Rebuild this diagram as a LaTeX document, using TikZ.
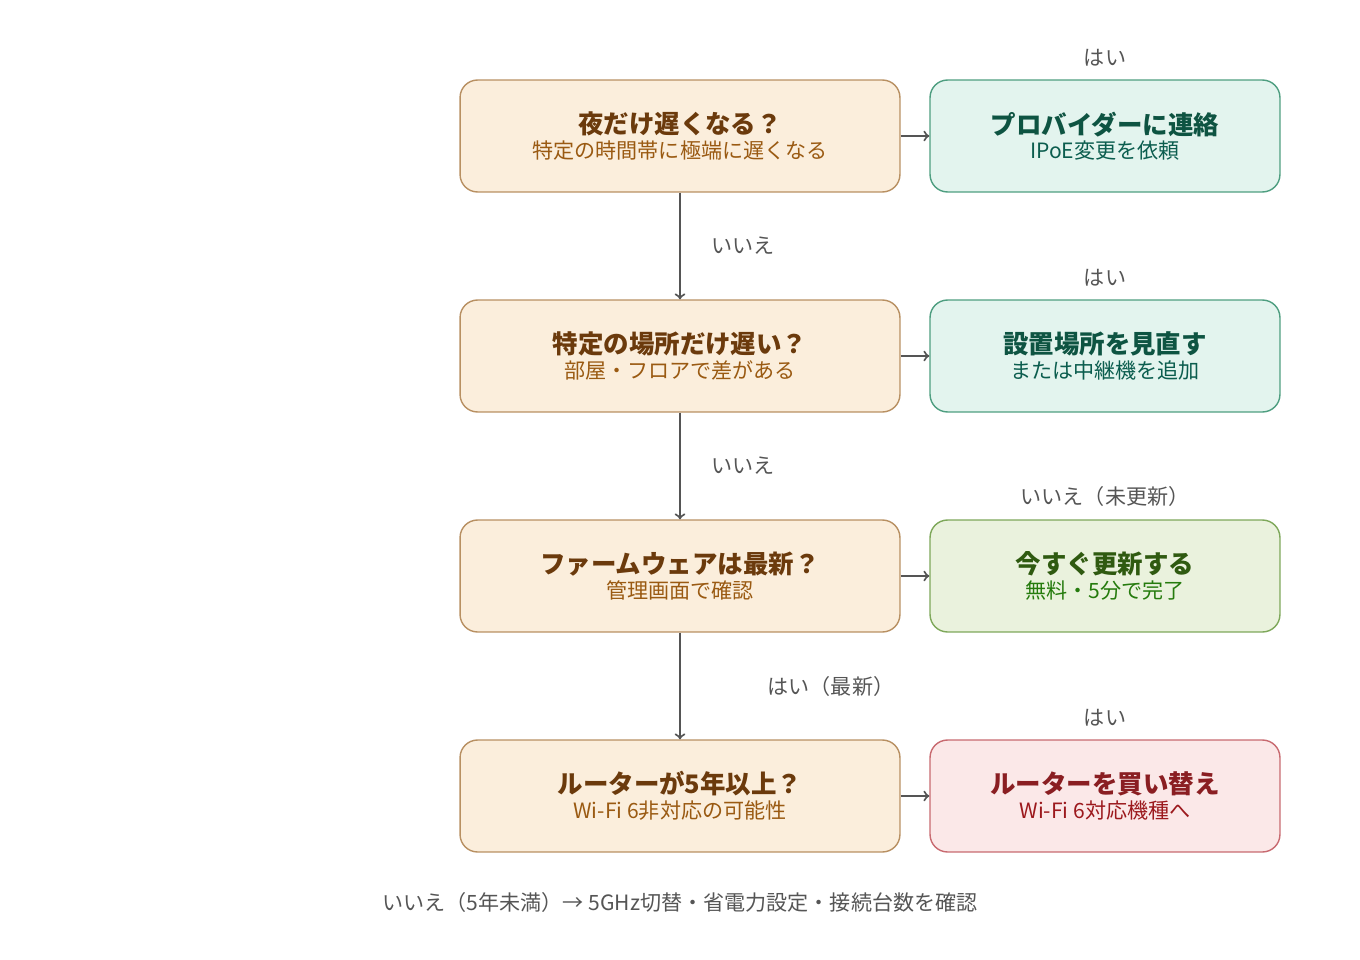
\documentclass[tikz,border=0pt]{standalone}
\usepackage{fontspec}
\setmainfont{Noto Sans CJK JP}
\usepackage{xcolor}
\usetikzlibrary{positioning}
\definecolor{qfill}{HTML}{FBEEDC}
\definecolor{qdraw}{HTML}{B89062}
\definecolor{qtitle}{HTML}{6B3A0C}
\definecolor{qsub}{HTML}{9A5A12}
\definecolor{tfill}{HTML}{E3F4EE}
\definecolor{tdraw}{HTML}{4E9E80}
\definecolor{ttitle}{HTML}{0E5442}
\definecolor{gfill}{HTML}{EAF2DD}
\definecolor{gdraw}{HTML}{7EA85A}
\definecolor{gtitle}{HTML}{2F5A10}
\definecolor{rfill}{HTML}{FBE8E8}
\definecolor{rdraw}{HTML}{C86A70}
\definecolor{rtitle}{HTML}{8A1E22}
\definecolor{lbl}{HTML}{555555}
\tikzset{
	box/.style={rounded corners=10pt,minimum width=8.8cm,minimum height=2.24cm,align=center,line width=0.8pt},
	ans/.style={box,minimum width=7cm},
	lab/.style={text=lbl,font=\fontsize{12}{14}\selectfont},
	arr/.style={->,lbl,line width=1.2pt},
}
\newcommand{\qtext}[3]{{\color{#1}\fontsize{14.5}{18}\selectfont\bfseries #2}\\[2pt]{\color{#1!70!orange}\fontsize{12}{14}\selectfont #3}}
\begin{document}
\begin{tikzpicture}[x=0.02cm,y=-0.02cm]
	\useasboundingbox (0,0) rectangle (1360,960);
	
	\node[box,fill=qfill,draw=qdraw] (q1) at (680,136) {{\color{qtitle}\fontsize{14.5}{18}\selectfont\bfseries 夜だけ遅くなる？}\\[2pt]{\color{qsub}\fontsize{12}{14}\selectfont 特定の時間帯に極端に遅くなる}};
	\node[box,fill=qfill,draw=qdraw] (q2) at (680,356) {{\color{qtitle}\fontsize{14.5}{18}\selectfont\bfseries 特定の場所だけ遅い？}\\[2pt]{\color{qsub}\fontsize{12}{14}\selectfont 部屋・フロアで差がある}};
	\node[box,fill=qfill,draw=qdraw] (q3) at (680,576) {{\color{qtitle}\fontsize{14.5}{18}\selectfont\bfseries ファームウェアは最新？}\\[2pt]{\color{qsub}\fontsize{12}{14}\selectfont 管理画面で確認}};
	\node[box,fill=qfill,draw=qdraw] (q4) at (680,796) {{\color{qtitle}\fontsize{14.5}{18}\selectfont\bfseries ルーターが5年以上？}\\[2pt]{\color{qsub}\fontsize{12}{14}\selectfont Wi-Fi 6非対応の可能性}};
	
	\node[ans,fill=tfill,draw=tdraw] (a1) at (1105,136) {{\color{ttitle}\fontsize{14.5}{18}\selectfont\bfseries プロバイダーに連絡}\\[2pt]{\color{ttitle!80!teal}\fontsize{12}{14}\selectfont IPoE変更を依頼}};
	\node[ans,fill=tfill,draw=tdraw] (a2) at (1105,356) {{\color{ttitle}\fontsize{14.5}{18}\selectfont\bfseries 設置場所を見直す}\\[2pt]{\color{ttitle!80!teal}\fontsize{12}{14}\selectfont または中継機を追加}};
	\node[ans,fill=gfill,draw=gdraw] (a3) at (1105,576) {{\color{gtitle}\fontsize{14.5}{18}\selectfont\bfseries 今すぐ更新する}\\[2pt]{\color{gtitle!80!green}\fontsize{12}{14}\selectfont 無料・5分で完了}};
	\node[ans,fill=rfill,draw=rdraw] (a4) at (1105,796) {{\color{rtitle}\fontsize{14.5}{18}\selectfont\bfseries ルーターを買い替え}\\[2pt]{\color{rtitle!85!red}\fontsize{12}{14}\selectfont Wi-Fi 6対応機種へ}};
	
	% 横の矢印と「はい」
	\foreach \i/\t in {1/はい,2/はい,3/いいえ（未更新）,4/はい}{
		\draw[arr] (q\i) -- (a\i);
		\node[lab,above=4pt of a\i] {\t};
	}
	
	% 縦の矢印
	\draw[arr] (q1) -- node[lab,right=14pt] {いいえ} (q2);
	\draw[arr] (q2) -- node[lab,right=14pt] {いいえ} (q3);
	\draw[arr] (q3) -- node[lab,right=14pt,xshift=32pt] {はい（最新）} (q4);
	
	\node[lab] (note) at (680,902) {いいえ（5年未満）→ 5GHz切替・省電力設定・接続台数を確認};
\end{tikzpicture}
\end{document}
